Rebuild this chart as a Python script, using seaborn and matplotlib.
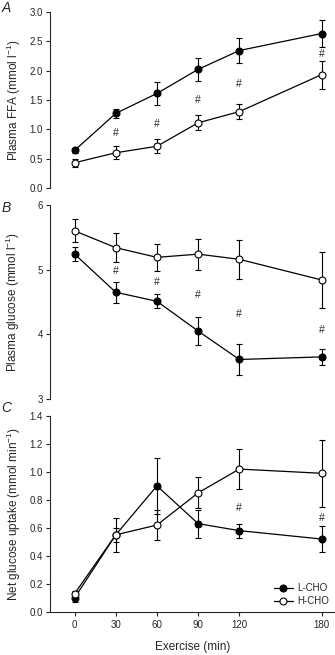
import numpy as np
import pandas as pd
import matplotlib
matplotlib.use('Agg')
import matplotlib.pyplot as plt
import seaborn as sns

# data (mean +/- SE)
time = [0, 30, 60, 90, 120, 180]

ffa_l = [0.64, 1.27, 1.61, 2.02, 2.34, 2.63]
ffa_l_err = [0.04, 0.08, 0.19, 0.20, 0.21, 0.23]
ffa_h = [0.43, 0.60, 0.71, 1.11, 1.30, 1.93]
ffa_h_err = [0.07, 0.11, 0.12, 0.13, 0.13, 0.24]
ffa_hash_t = [30, 60, 90, 120, 180]
ffa_hash_y = [0.94, 1.09, 1.50, 1.77, 2.28]

glu_l = [5.24, 4.65, 4.51, 4.05, 3.61, 3.65]
glu_l_err = [0.11, 0.16, 0.11, 0.21, 0.24, 0.12]
glu_h = [5.60, 5.34, 5.19, 5.24, 5.16, 4.84]
glu_h_err = [0.18, 0.22, 0.21, 0.24, 0.30, 0.43]
glu_hash_t = [30, 60, 90, 120, 180]
glu_hash_y = [4.98, 4.81, 4.60, 4.31, 4.07]

upt_l = [0.10, 0.55, 0.90, 0.63, 0.58, 0.52]
upt_l_err = [0.03, 0.05, 0.20, 0.10, 0.05, 0.09]
upt_h = [0.13, 0.55, 0.62, 0.85, 1.02, 0.99]
upt_h_err = [0.02, 0.12, 0.11, 0.11, 0.14, 0.24]
upt_hash_t = [120, 180]
upt_hash_y = [0.74, 0.67]

sns.set_style('ticks')
plt.rcParams['font.family'] = ['Liberation Sans', 'DejaVu Sans']
plt.rcParams['mathtext.fontset'] = 'custom'
plt.rcParams['mathtext.rm'] = 'Liberation Sans'

fig = plt.figure(figsize=(3.35, 6.55), dpi=100)
axA = fig.add_axes([0.149, 0.713, 0.85, 0.269])
axB = fig.add_axes([0.149, 0.391, 0.85, 0.296])
axC = fig.add_axes([0.149, 0.066, 0.85, 0.299])


def draw(ax, yl, yle, yh, yhe, ht, hy):
    for y, e in [(yh, yhe), (yl, yle)]:
        ax.errorbar(time, y, yerr=e, fmt='none', ecolor='black', elinewidth=0.8,
                    capsize=2.5, capthick=0.8, zorder=2)
    df = pd.DataFrame({'t': time * 2, 'v': yl + yh,
                       'g': ['L-CHO'] * 6 + ['H-CHO'] * 6})
    for g, fc in [('L-CHO', 'black'), ('H-CHO', 'white')]:
        sns.lineplot(data=df[df.g == g], x='t', y='v', ax=ax, color='black',
                     lw=0.9, marker='o', markersize=5, markerfacecolor=fc,
                     markeredgecolor='black', markeredgewidth=0.8,
                     label=g, zorder=3)
    for t, y in zip(ht, hy):
        ax.text(t, y, '#', ha='center', va='center', fontsize=7.5)
    ax.set_xlim(-18, 189.5)
    ax.set_xlabel('')
    ax.tick_params(axis='y', labelsize=7, length=3, width=0.8, pad=2)
    ax.spines['left'].set_linewidth(0.8)
    ax.spines['bottom'].set_linewidth(0.8)
    sns.despine(ax=ax)


draw(axA, ffa_l, ffa_l_err, ffa_h, ffa_h_err, ffa_hash_t, ffa_hash_y)
axA.set_ylim(0, 3.0)
axA.set_yticks(np.arange(0, 3.01, 0.5))
axA.set_yticklabels(['%.1f' % v for v in np.arange(0, 3.01, 0.5)])
axA.set_ylabel('Plasma FFA (mmol l$^{-1}$)', fontsize=8.5, labelpad=5)

draw(axB, glu_l, glu_l_err, glu_h, glu_h_err, glu_hash_t, glu_hash_y)
axB.set_ylim(3, 6)
axB.set_yticks([3, 4, 5, 6])
axB.set_ylabel('Plasma glucose (mmol l$^{-1}$)', fontsize=8.5, labelpad=11)

draw(axC, upt_l, upt_l_err, upt_h, upt_h_err, upt_hash_t, upt_hash_y)
axC.set_ylim(0, 1.4)
axC.set_yticks(np.arange(0, 1.41, 0.2))
axC.set_yticklabels(['%.1f' % v for v in np.arange(0, 1.41, 0.2)])
axC.set_ylabel('Net glucose uptake (mmol min$^{-1}$)', fontsize=8.5, labelpad=5)
axC.set_xlabel('Exercise (min)', fontsize=8.5, labelpad=8)

for ax in (axA, axB):
    ax.spines['bottom'].set_visible(False)
    ax.set_xticks([])
    ax.get_legend().remove()
axC.set_xticks(time)
axC.tick_params(axis='x', labelsize=7, length=3, width=0.8, pad=3)

leg = axC.legend(loc='lower right', fontsize=7, frameon=False,
                 handlelength=2.0, handletextpad=0.4, labelspacing=0.3,
                 borderaxespad=0.2)

fig.text(0.005, 0.982, 'A', fontsize=10, style='italic')
fig.text(0.005, 0.676, 'B', fontsize=10, style='italic')
fig.text(0.005, 0.371, 'C', fontsize=10, style='italic')

fig.savefig('out.png', dpi=100)
